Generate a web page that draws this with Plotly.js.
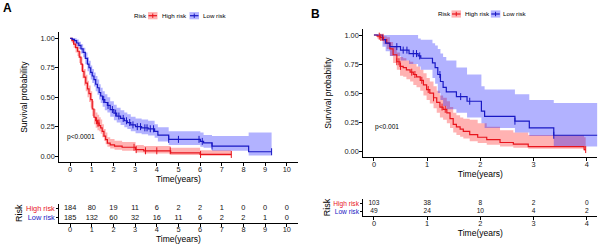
<!DOCTYPE html>
<html><head><meta charset="utf-8">
<script src="https://cdn.plot.ly/plotly-3.0.1.min.js"></script>
<style>html,body{margin:0;padding:0;background:#fff}#chart{width:600px;height:246px}</style>
</head><body><div id="chart"></div>
<script>
// ---------- Panel A data ----------
const A_times = [0,1,2,3,4,5,6,7,8,9,10];
const A_high_atrisk = [184,80,19,11,6,2,2,1,0,0,0];
const A_low_atrisk  = [185,132,60,32,16,11,6,2,2,1,0];

const A_high_t  = [0,0.08,0.16,0.25,0.34,0.42,0.50,0.57,0.64,0.72,0.80,0.87,0.95,1.02,1.10,1.18,1.26,1.34,1.41,1.48,1.56,1.64,1.72,1.85,2.05,2.40,3.02,3.40,4.64,6.00,7.44];
const A_high_s  = [1,0.98,0.95,0.92,0.89,0.84,0.78,0.72,0.67,0.62,0.57,0.53,0.48,0.40,0.33,0.30,0.28,0.26,0.24,0.21,0.17,0.14,0.11,0.095,0.085,0.075,0.055,0.045,0.028,0.014,0.014];
const A_high_hi = [1,1,0.98,0.96,0.93,0.89,0.84,0.78,0.74,0.69,0.64,0.60,0.55,0.47,0.40,0.37,0.35,0.33,0.31,0.27,0.23,0.20,0.16,0.145,0.13,0.12,0.095,0.085,0.07,0.05,0.05];
const A_high_lo = [1,0.96,0.92,0.88,0.85,0.79,0.72,0.66,0.60,0.55,0.50,0.46,0.41,0.34,0.27,0.24,0.22,0.21,0.19,0.16,0.13,0.10,0.08,0.065,0.055,0.045,0.03,0.022,0.01,0.003,0.003];
const A_high_cens = [1.22,1.28,1.33,2.95,3.05,3.48,4.0,4.62,6.02,7.44];

const A_low_t  = [0,0.10,0.20,0.30,0.40,0.50,0.60,0.70,0.80,0.87,0.95,1.02,1.10,1.18,1.26,1.34,1.41,1.50,1.60,1.72,1.85,2.02,2.15,2.33,2.50,2.64,2.80,3.02,3.30,3.60,3.90,4.05,4.55,6.01,6.16,6.55,8.24,9.30];
const A_low_s  = [1,0.99,0.98,0.96,0.94,0.91,0.88,0.83,0.78,0.75,0.71,0.68,0.65,0.61,0.58,0.54,0.51,0.48,0.455,0.43,0.395,0.365,0.34,0.32,0.30,0.285,0.265,0.25,0.24,0.232,0.21,0.178,0.142,0.125,0.113,0.085,0.037,0.037];
const A_low_hi = [1,1,1,0.99,0.97,0.95,0.92,0.88,0.84,0.81,0.77,0.74,0.71,0.68,0.65,0.61,0.58,0.55,0.525,0.50,0.465,0.435,0.41,0.39,0.37,0.355,0.335,0.32,0.31,0.30,0.27,0.245,0.21,0.20,0.18,0.17,0.20,0.20];
const A_low_lo = [1,0.98,0.96,0.93,0.91,0.87,0.84,0.78,0.72,0.69,0.65,0.62,0.59,0.55,0.52,0.48,0.45,0.42,0.39,0.37,0.335,0.305,0.285,0.265,0.245,0.23,0.21,0.195,0.185,0.175,0.155,0.125,0.095,0.08,0.07,0.045,0.005,0.005];
const A_low_cens = [1.55,1.75,1.95,2.1,2.25,2.45,2.6,2.75,2.9,3.1,3.25,3.45,3.55,3.7,3.85,4.55,5.0,5.95,6.1,6.55,9.3];

// ---------- Panel B data ----------
const B_times = [0,1,2,3,4];
const B_high_atrisk = [103,38,8,2,0];
const B_low_atrisk  = [49,24,10,4,2];

const B_high_t  = [0,0.06,0.12,0.18,0.24,0.30,0.36,0.43,0.49,0.55,0.61,0.68,0.74,0.80,0.87,0.93,0.99,1.05,1.12,1.18,1.24,1.30,1.37,1.43,1.49,1.55,1.62,1.68,1.80,1.95,2.12,2.37,2.62,2.90,3.95,3.98];
const B_high_s  = [1,0.99,0.98,0.96,0.93,0.88,0.83,0.77,0.73,0.72,0.70,0.68,0.66,0.64,0.61,0.57,0.53,0.50,0.46,0.42,0.38,0.36,0.33,0.28,0.23,0.21,0.19,0.17,0.143,0.12,0.10,0.075,0.06,0.04,0.014,0.014];
const B_high_hi = [1,1,1,0.99,0.98,0.94,0.90,0.85,0.81,0.80,0.78,0.77,0.75,0.73,0.70,0.67,0.63,0.60,0.56,0.52,0.48,0.46,0.43,0.38,0.33,0.31,0.29,0.28,0.27,0.24,0.21,0.18,0.16,0.14,0.12,0.12];
const B_high_lo = [1,0.97,0.95,0.92,0.88,0.82,0.76,0.70,0.65,0.64,0.62,0.60,0.57,0.55,0.52,0.48,0.44,0.41,0.37,0.33,0.29,0.27,0.24,0.20,0.16,0.14,0.125,0.11,0.086,0.07,0.055,0.04,0.03,0.02,0.003,0.003];
const B_high_cens = [0.10,0.13,0.17,0.43,0.47,0.50,0.71,0.77,0.90,1.02,1.12,1.28,1.34,3.98];

const B_low_t  = [0,0.16,0.22,0.30,0.50,0.66,0.83,0.88,1.10,1.15,1.20,1.25,1.30,1.36,1.55,1.75,2.02,2.08,2.65,2.92,3.38,4.20];
const B_low_s  = [1,0.96,0.93,0.90,0.87,0.84,0.82,0.80,0.76,0.72,0.66,0.60,0.55,0.51,0.47,0.43,0.344,0.30,0.258,0.20,0.137,0.137];
const B_low_hi = [1,1,1,1,1,1,0.97,0.96,0.93,0.91,0.88,0.84,0.81,0.78,0.72,0.66,0.56,0.53,0.49,0.44,0.415,0.415];
const B_low_lo = [1,0.90,0.86,0.82,0.78,0.75,0.73,0.70,0.63,0.58,0.50,0.44,0.39,0.36,0.33,0.29,0.24,0.20,0.16,0.13,0.04,0.04];
const B_low_cens = [0.43,0.55,0.62,0.74,0.80,0.86,1.24,1.63,1.80,2.65,3.38];

const groups = ['High risk','Low risk'];

// ---------- styling ----------
const RED = '#E8141C', BLUE = '#1818C4';
const RED_FILL = 'rgba(255,0,0,0.3)', BLUE_FILL = 'rgba(0,0,255,0.3)';
const FONT = 'Liberation Sans, Arial, Helvetica, sans-serif';

function stepAt(ts, ss, t){ let v = ss[0]; for (let i=0;i<ts.length;i++){ if (ts[i] <= t) v = ss[i]; } return v; }
function band(ts, lo, hi, fill, xa, ya){
  return [
    {x:ts, y:lo, mode:'lines', line:{width:0, shape:'hv'}, xaxis:xa, yaxis:ya, showlegend:false, hoverinfo:'skip'},
    {x:ts, y:hi, mode:'lines', line:{width:0, shape:'hv'}, fill:'tonexty', fillcolor:fill, xaxis:xa, yaxis:ya, showlegend:false, hoverinfo:'skip'}
  ];
}
function curve(ts, ss, color, name, xa, ya){
  return {x:ts, y:ss, mode:'lines', name:name, line:{color:color, width:1.2, shape:'hv'}, xaxis:xa, yaxis:ya, showlegend:false};
}
function cens(ct, ts, ss, color, xa, ya){
  return {x:ct, y:ct.map(t=>stepAt(ts, ss, t)), mode:'markers', marker:{symbol:'line-ns', size:5, color:color, line:{width:1, color:color}}, xaxis:xa, yaxis:ya, showlegend:false, hoverinfo:'skip'};
}
function tableRow(times, counts, row, xa, ya, fs){
  return {x:times, y:times.map(()=>row), text:counts.map(String), mode:'text', textfont:{family:FONT, size:fs, color:'#111'}, xaxis:xa, yaxis:ya, showlegend:false, hoverinfo:'skip'};
}

const traces = [
  ...band(A_high_t, A_high_lo, A_high_hi, RED_FILL, 'x', 'y'),
  ...band(A_low_t, A_low_lo, A_low_hi, BLUE_FILL, 'x', 'y'),
  curve(A_high_t, A_high_s, RED, groups[0], 'x', 'y'),
  curve(A_low_t, A_low_s, BLUE, groups[1], 'x', 'y'),
  cens(A_high_cens, A_high_t, A_high_s, RED, 'x', 'y'),
  cens(A_low_cens, A_low_t, A_low_s, BLUE, 'x', 'y'),
  tableRow(A_times, A_high_atrisk, 2, 'x2', 'y2', 7.4),
  tableRow(A_times, A_low_atrisk, 1, 'x2', 'y2', 7.4),
  ...band(B_high_t, B_high_lo, B_high_hi, RED_FILL, 'x3', 'y3'),
  ...band(B_low_t, B_low_lo, B_low_hi, BLUE_FILL, 'x3', 'y3'),
  curve(B_high_t, B_high_s, RED, groups[0], 'x3', 'y3'),
  curve(B_low_t, B_low_s, BLUE, groups[1], 'x3', 'y3'),
  cens(B_high_cens, B_high_t, B_high_s, RED, 'x3', 'y3'),
  cens(B_low_cens, B_low_t, B_low_s, BLUE, 'x3', 'y3'),
  tableRow(B_times, B_high_atrisk, 2, 'x4', 'y4', 6.6),
  tableRow(B_times, B_low_atrisk, 1, 'x4', 'y4', 6.6)
];

const W = 600, H = 246;
const px = v => v / W, py = v => 1 - v / H;

function xAxis(domain, range, ticks, anchor){
  return {domain:domain, range:range, anchor:anchor, tickvals:ticks, ticktext:ticks.map(String),
    ticks:'outside', ticklen:3, tickwidth:1, tickcolor:'#000', showline:true, linecolor:'#000', linewidth:1,
    showgrid:false, zeroline:false, tickfont:{family:FONT, size:7.4, color:'#222'}, ticklabelstandoff:-3,
    title:{text:'Time(years)', font:{family:FONT, size:8.5, color:'#000'}, standoff:0}, fixedrange:true};
}
function yMain(domain, anchor){
  return {domain:domain, range:[-0.05,1.05], anchor:anchor, tickvals:[0,0.25,0.5,0.75,1], tickformat:'.2f',
    ticks:'outside', ticklen:3, tickwidth:1, tickcolor:'#000', showline:true, linecolor:'#000', linewidth:1,
    showgrid:false, zeroline:false, tickfont:{family:FONT, size:7.4, color:'#222'}, ticklabelstandoff:-1,
    title:{text:'Survival probability', font:{family:FONT, size:8.5, color:'#000'}, standoff:11}};
}
function yTable(domain, anchor, fs){
  return {domain:domain, range:[0.5,2.5], anchor:anchor, tickvals:[2,1],
    ticktext:['<span style="color:'+RED+'">'+groups[0]+'</span>','<span style="color:'+BLUE+'">'+groups[1]+'</span>'],
    ticks:'outside', ticklen:2, tickwidth:1, tickcolor:'#000', showline:true, linecolor:'#000', linewidth:1,
    showgrid:false, zeroline:false, tickfont:{family:FONT, size:fs},
    title:{text:'Risk', font:{family:FONT, size:9, color:'#000'}, standoff:1}};
}

const annotations = [
  {text:'<b>A</b>', x:px(7.5), y:py(7.5), xref:'paper', yref:'paper', xanchor:'center', yanchor:'middle', showarrow:false, font:{family:FONT, size:12, color:'#000'}},
  {text:'<b>B</b>', x:px(315), y:py(14), xref:'paper', yref:'paper', xanchor:'center', yanchor:'middle', showarrow:false, font:{family:FONT, size:12, color:'#000'}},
  {text:'p<0.0001', x:-0.24, y:0.164, xref:'x', yref:'y', xanchor:'left', yanchor:'middle', showarrow:false, font:{family:FONT, size:6.6, color:'#000'}},
  {text:'p<0.001', x:-0.02, y:0.21, xref:'x3', yref:'y3', xanchor:'left', yanchor:'middle', showarrow:false, font:{family:FONT, size:6.6, color:'#000'}}
];
const shapes = [];
function legend(yc, boxR, textR, boxB, textB, textRisk){
  const lab = (t, x) => ({text:t, x:px(x), y:py(yc), xref:'paper', yref:'paper', xanchor:'left', yanchor:'middle', showarrow:false, font:{family:FONT, size:6.2, color:'#000'}});
  annotations.push(lab('Risk', textRisk), lab(groups[0], textR), lab(groups[1], textB));
  [[boxR, RED, RED_FILL],[boxB, BLUE, BLUE_FILL]].forEach(([bx, c, f])=>{
    shapes.push({type:'rect', xref:'paper', yref:'paper', x0:px(bx), x1:px(bx+9.5), y0:py(yc+3.6), y1:py(yc-3.6), fillcolor:f, line:{width:0}});
    shapes.push({type:'line', xref:'paper', yref:'paper', x0:px(bx+0.5), x1:px(bx+9), y0:py(yc), y1:py(yc), line:{color:c, width:1.2}});
    shapes.push({type:'line', xref:'paper', yref:'paper', x0:px(bx+4.75), x1:px(bx+4.75), y0:py(yc-2.2), y1:py(yc+2.2), line:{color:c, width:1}});
  });
}
legend(15.7, 148, 160, 189.5, 201, 132);
legend(14, 451.5, 462.5, 490.8, 501, 435.5);

const layout = {
  width:W, height:H, margin:{l:0, r:0, t:0, b:0}, paper_bgcolor:'#fff', plot_bgcolor:'#fff',
  font:{family:FONT, color:'#000'}, showlegend:false,
  xaxis: xAxis([px(59.3), px(297.6)], [-0.5,10.5], A_times, 'y'),
  yaxis: yMain([py(162), py(32.4)], 'x'),
  xaxis2: xAxis([px(59.3), px(297.6)], [-0.5,10.5], A_times, 'y2'),
  yaxis2: yTable([py(222.5), py(204)], 'x2', 7.4),
  xaxis3: xAxis([px(363.3), px(597.4)], [-0.2,4.2], B_times, 'y3'),
  yaxis3: yMain([py(157), py(29.2)], 'x3'),
  xaxis4: xAxis([px(363.3), px(597.4)], [-0.2,4.2], B_times, 'y4'),
  yaxis4: yTable([py(215.7), py(199.3)], 'x4', 6.6),
  annotations: annotations, shapes: shapes
};
Plotly.newPlot('chart', traces, layout, {staticPlot:true, displayModeBar:false});
</script></body></html>
